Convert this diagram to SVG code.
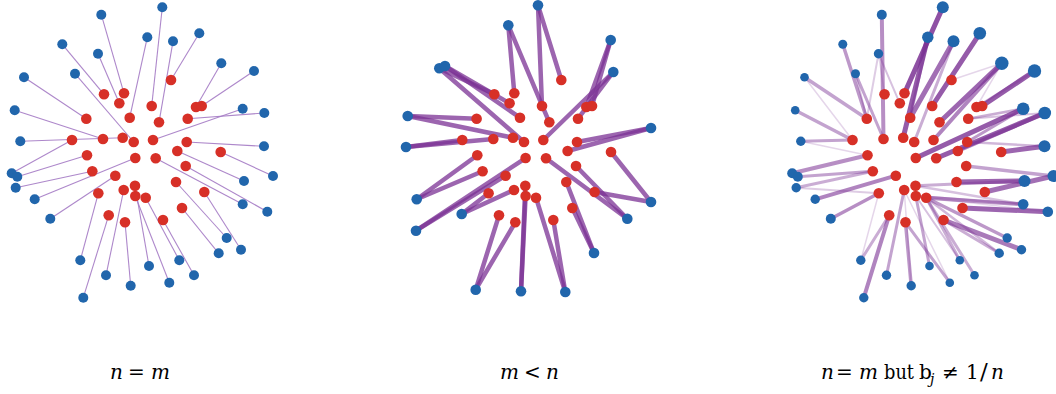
<svg xmlns="http://www.w3.org/2000/svg" width="1056" height="394" viewBox="0 0 1056 394">
<style>
.r{fill:#d73027}
.b{fill:#2166ac}
.e1 line{stroke:#a47ac4;stroke-width:1.1;stroke-opacity:.9}
.e2 line{stroke:#7b3294;stroke-width:4.5;stroke-opacity:.75;stroke-linecap:round}
.e3 line{stroke:#7b3294;stroke-linecap:round}
.lbl{font-family:"DejaVu Serif",serif;font-size:20px;fill:#000}
.it{font-style:italic}
</style>
<rect width="1056" height="394" fill="#fff"/>

<!-- ===== Panel 1: n = m ===== -->
<g id="p1-edges" class="e1">
<line x1="171" y1="80" x2="199.3" y2="33.3"/>
<line x1="104" y1="94.3" x2="62.3" y2="44.3"/>
<line x1="124" y1="93.3" x2="101.3" y2="14.7"/>
<line x1="119.3" y1="103.3" x2="98" y2="53.7"/>
<line x1="151.7" y1="106" x2="162.3" y2="7.3"/>
<line x1="196" y1="107" x2="221.3" y2="63.3"/>
<line x1="201.7" y1="106" x2="254" y2="71"/>
<line x1="86.3" y1="118.7" x2="24" y2="77.3"/>
<line x1="129.7" y1="117.7" x2="147.3" y2="37.3"/>
<line x1="159" y1="122.3" x2="173" y2="41.3"/>
<line x1="187.7" y1="118.7" x2="264.3" y2="113"/>
<line x1="72" y1="140" x2="11.7" y2="173.3"/>
<line x1="103" y1="139" x2="14.7" y2="110.3"/>
<line x1="122.7" y1="137.7" x2="20.3" y2="141.3"/>
<line x1="133.7" y1="142" x2="75" y2="73.7"/>
<line x1="153" y1="140" x2="242.7" y2="108.7"/>
<line x1="186.7" y1="142" x2="264" y2="146.3"/>
<line x1="177.3" y1="151" x2="244" y2="181"/>
<line x1="220.7" y1="152" x2="273" y2="176"/>
<line x1="87" y1="155.3" x2="17.3" y2="176.7"/>
<line x1="135.3" y1="158" x2="34.7" y2="199.3"/>
<line x1="155.7" y1="158.3" x2="242.7" y2="204.3"/>
<line x1="185.7" y1="166" x2="267.3" y2="211.7"/>
<line x1="92.3" y1="171.3" x2="15.7" y2="187.7"/>
<line x1="115.3" y1="175.7" x2="50.3" y2="218.7"/>
<line x1="135" y1="185.7" x2="149" y2="266"/>
<line x1="123.7" y1="190" x2="106" y2="275.3"/>
<line x1="176" y1="182" x2="226.7" y2="238"/>
<line x1="204.3" y1="192" x2="241" y2="249.7"/>
<line x1="98.3" y1="193.3" x2="80.3" y2="260.3"/>
<line x1="135.3" y1="196" x2="169.3" y2="282.7"/>
<line x1="145.7" y1="197.7" x2="179.3" y2="260.3"/>
<line x1="182" y1="208" x2="218.7" y2="253.3"/>
<line x1="108.7" y1="215.3" x2="83.3" y2="297.7"/>
<line x1="125" y1="222.3" x2="130.7" y2="285.7"/>
<line x1="163" y1="220" x2="194" y2="275.3"/>
</g>
<g id="p1-nodes">
<g id="p1-b1"><circle class="b" cx="199.3" cy="33.3" r="5"/></g>
<g id="p1-b2"><circle class="b" cx="62.3" cy="44.3" r="5"/></g>
<g id="p1-b3"><circle class="b" cx="101.3" cy="14.7" r="5"/></g>
<g id="p1-b4"><circle class="b" cx="98" cy="53.7" r="5"/></g>
<g id="p1-b5"><circle class="b" cx="162.3" cy="7.3" r="5"/></g>
<g id="p1-b6"><circle class="b" cx="221.3" cy="63.3" r="5"/></g>
<g id="p1-b7"><circle class="b" cx="254" cy="71" r="5"/></g>
<g id="p1-b8"><circle class="b" cx="24" cy="77.3" r="5"/></g>
<g id="p1-b9"><circle class="b" cx="147.3" cy="37.3" r="5"/></g>
<g id="p1-b10"><circle class="b" cx="173" cy="41.3" r="5"/></g>
<g id="p1-b11"><circle class="b" cx="264.3" cy="113" r="5"/></g>
<g id="p1-b12"><circle class="b" cx="11.7" cy="173.3" r="5"/></g>
<g id="p1-b13"><circle class="b" cx="14.7" cy="110.3" r="5"/></g>
<g id="p1-b14"><circle class="b" cx="20.3" cy="141.3" r="5"/></g>
<g id="p1-b15"><circle class="b" cx="75" cy="73.7" r="5"/></g>
<g id="p1-b16"><circle class="b" cx="242.7" cy="108.7" r="5"/></g>
<g id="p1-b17"><circle class="b" cx="264" cy="146.3" r="5"/></g>
<g id="p1-b18"><circle class="b" cx="244" cy="181" r="5"/></g>
<g id="p1-b19"><circle class="b" cx="273" cy="176" r="5"/></g>
<g id="p1-b20"><circle class="b" cx="17.3" cy="176.7" r="5"/></g>
<g id="p1-b21"><circle class="b" cx="34.7" cy="199.3" r="5"/></g>
<g id="p1-b22"><circle class="b" cx="242.7" cy="204.3" r="5"/></g>
<g id="p1-b23"><circle class="b" cx="267.3" cy="211.7" r="5"/></g>
<g id="p1-b24"><circle class="b" cx="15.7" cy="187.7" r="5"/></g>
<g id="p1-b25"><circle class="b" cx="50.3" cy="218.7" r="5"/></g>
<g id="p1-b26"><circle class="b" cx="149" cy="266" r="5"/></g>
<g id="p1-b27"><circle class="b" cx="106" cy="275.3" r="5"/></g>
<g id="p1-b28"><circle class="b" cx="226.7" cy="238" r="5"/></g>
<g id="p1-b29"><circle class="b" cx="241" cy="249.7" r="5"/></g>
<g id="p1-b30"><circle class="b" cx="80.3" cy="260.3" r="5"/></g>
<g id="p1-b31"><circle class="b" cx="169.3" cy="282.7" r="5"/></g>
<g id="p1-b32"><circle class="b" cx="179.3" cy="260.3" r="5"/></g>
<g id="p1-b33"><circle class="b" cx="218.7" cy="253.3" r="5"/></g>
<g id="p1-b34"><circle class="b" cx="83.3" cy="297.7" r="5"/></g>
<g id="p1-b35"><circle class="b" cx="130.7" cy="285.7" r="5"/></g>
<g id="p1-b36"><circle class="b" cx="194" cy="275.3" r="5"/></g>
<g id="p1-r1"><circle class="r" cx="171" cy="80" r="5.3"/></g>
<g id="p1-r2"><circle class="r" cx="104" cy="94.3" r="5.3"/></g>
<g id="p1-r3"><circle class="r" cx="124" cy="93.3" r="5.3"/></g>
<g id="p1-r4"><circle class="r" cx="119.3" cy="103.3" r="5.3"/></g>
<g id="p1-r5"><circle class="r" cx="151.7" cy="106" r="5.3"/></g>
<g id="p1-r6"><circle class="r" cx="196" cy="107" r="5.3"/></g>
<g id="p1-r7"><circle class="r" cx="201.7" cy="106" r="5.3"/></g>
<g id="p1-r8"><circle class="r" cx="86.3" cy="118.7" r="5.3"/></g>
<g id="p1-r9"><circle class="r" cx="129.7" cy="117.7" r="5.3"/></g>
<g id="p1-r10"><circle class="r" cx="159" cy="122.3" r="5.3"/></g>
<g id="p1-r11"><circle class="r" cx="187.7" cy="118.7" r="5.3"/></g>
<g id="p1-r12"><circle class="r" cx="72" cy="140" r="5.3"/></g>
<g id="p1-r13"><circle class="r" cx="103" cy="139" r="5.3"/></g>
<g id="p1-r14"><circle class="r" cx="122.7" cy="137.7" r="5.3"/></g>
<g id="p1-r15"><circle class="r" cx="133.7" cy="142" r="5.3"/></g>
<g id="p1-r16"><circle class="r" cx="153" cy="140" r="5.3"/></g>
<g id="p1-r17"><circle class="r" cx="186.7" cy="142" r="5.3"/></g>
<g id="p1-r18"><circle class="r" cx="177.3" cy="151" r="5.3"/></g>
<g id="p1-r19"><circle class="r" cx="220.7" cy="152" r="5.3"/></g>
<g id="p1-r20"><circle class="r" cx="87" cy="155.3" r="5.3"/></g>
<g id="p1-r21"><circle class="r" cx="135.3" cy="158" r="5.3"/></g>
<g id="p1-r22"><circle class="r" cx="155.7" cy="158.3" r="5.3"/></g>
<g id="p1-r23"><circle class="r" cx="185.7" cy="166" r="5.3"/></g>
<g id="p1-r24"><circle class="r" cx="92.3" cy="171.3" r="5.3"/></g>
<g id="p1-r25"><circle class="r" cx="115.3" cy="175.7" r="5.3"/></g>
<g id="p1-r26"><circle class="r" cx="135" cy="185.7" r="5.3"/></g>
<g id="p1-r27"><circle class="r" cx="123.7" cy="190" r="5.3"/></g>
<g id="p1-r28"><circle class="r" cx="176" cy="182" r="5.3"/></g>
<g id="p1-r29"><circle class="r" cx="204.3" cy="192" r="5.3"/></g>
<g id="p1-r30"><circle class="r" cx="98.3" cy="193.3" r="5.3"/></g>
<g id="p1-r31"><circle class="r" cx="135.3" cy="196" r="5.3"/></g>
<g id="p1-r32"><circle class="r" cx="145.7" cy="197.7" r="5.3"/></g>
<g id="p1-r33"><circle class="r" cx="182" cy="208" r="5.3"/></g>
<g id="p1-r34"><circle class="r" cx="108.7" cy="215.3" r="5.3"/></g>
<g id="p1-r35"><circle class="r" cx="125" cy="222.3" r="5.3"/></g>
<g id="p1-r36"><circle class="r" cx="163" cy="220" r="5.3"/></g>
</g>

<!-- ===== Panel 2: m < n ===== -->
<g transform="translate(390.3,0)">
<g id="p2-edges" class="e2">
<line x1="171" y1="80" x2="147.7" y2="5.3"/>
<line x1="151.7" y1="106" x2="147.7" y2="5.3"/>
<line x1="124" y1="93.3" x2="118" y2="25.3"/>
<line x1="159" y1="122.3" x2="118" y2="25.3"/>
<line x1="196" y1="107" x2="220.4" y2="40"/>
<line x1="201.7" y1="106" x2="220.4" y2="40"/>
<line x1="187.7" y1="118.7" x2="223" y2="72"/>
<line x1="153" y1="140" x2="223" y2="72"/>
<line x1="104" y1="94.3" x2="49" y2="68.3"/>
<line x1="133.7" y1="142" x2="49" y2="68.3"/>
<line x1="119.3" y1="103.3" x2="54.7" y2="66"/>
<line x1="129.7" y1="117.7" x2="54.7" y2="66"/>
<line x1="86.3" y1="118.7" x2="17.4" y2="116"/>
<line x1="122.7" y1="137.7" x2="17.4" y2="116"/>
<line x1="72" y1="140" x2="15.7" y2="147"/>
<line x1="103" y1="139" x2="15.7" y2="147"/>
<line x1="186.7" y1="142" x2="260.7" y2="128"/>
<line x1="177.3" y1="151" x2="260.7" y2="128"/>
<line x1="220.7" y1="152" x2="260.7" y2="202"/>
<line x1="204.3" y1="192" x2="260.7" y2="202"/>
<line x1="155.7" y1="158.3" x2="237" y2="218.7"/>
<line x1="185.7" y1="166" x2="237" y2="218.7"/>
<line x1="176" y1="182" x2="203.7" y2="253"/>
<line x1="182" y1="208" x2="203.7" y2="253"/>
<line x1="87" y1="155.3" x2="26.4" y2="199.3"/>
<line x1="92.3" y1="171.3" x2="26.4" y2="199.3"/>
<line x1="135.3" y1="158" x2="25.7" y2="230.7"/>
<line x1="115.3" y1="175.7" x2="25.7" y2="230.7"/>
<line x1="123.7" y1="190" x2="71.4" y2="214"/>
<line x1="98.3" y1="193.3" x2="71.4" y2="214"/>
<line x1="108.7" y1="215.3" x2="85.4" y2="289.7"/>
<line x1="125" y1="222.3" x2="85.4" y2="289.7"/>
<line x1="135" y1="185.7" x2="130.7" y2="291.3"/>
<line x1="135.3" y1="196" x2="130.7" y2="291.3"/>
<line x1="145.7" y1="197.7" x2="175" y2="292"/>
<line x1="163" y1="220" x2="175" y2="292"/>
</g>
<g id="p2-nodes">
<g id="p2-b1"><circle class="b" cx="147.7" cy="5.3" r="5.3"/></g>
<g id="p2-b2"><circle class="b" cx="118" cy="25.3" r="5.3"/></g>
<g id="p2-b3"><circle class="b" cx="220.4" cy="40" r="5.3"/></g>
<g id="p2-b4"><circle class="b" cx="223" cy="72" r="5.3"/></g>
<g id="p2-b5"><circle class="b" cx="49" cy="68.3" r="5.3"/></g>
<g id="p2-b6"><circle class="b" cx="54.7" cy="66" r="5.3"/></g>
<g id="p2-b7"><circle class="b" cx="17.4" cy="116" r="5.3"/></g>
<g id="p2-b8"><circle class="b" cx="15.7" cy="147" r="5.3"/></g>
<g id="p2-b9"><circle class="b" cx="260.7" cy="128" r="5.3"/></g>
<g id="p2-b10"><circle class="b" cx="260.7" cy="202" r="5.3"/></g>
<g id="p2-b11"><circle class="b" cx="237" cy="218.7" r="5.3"/></g>
<g id="p2-b12"><circle class="b" cx="203.7" cy="253" r="5.3"/></g>
<g id="p2-b13"><circle class="b" cx="26.4" cy="199.3" r="5.3"/></g>
<g id="p2-b14"><circle class="b" cx="25.7" cy="230.7" r="5.3"/></g>
<g id="p2-b15"><circle class="b" cx="71.4" cy="214" r="5.3"/></g>
<g id="p2-b16"><circle class="b" cx="85.4" cy="289.7" r="5.3"/></g>
<g id="p2-b17"><circle class="b" cx="130.7" cy="291.3" r="5.3"/></g>
<g id="p2-b18"><circle class="b" cx="175" cy="292" r="5.3"/></g>
<g id="p2-r1"><circle class="r" cx="171" cy="80" r="5.3"/></g>
<g id="p2-r2"><circle class="r" cx="104" cy="94.3" r="5.3"/></g>
<g id="p2-r3"><circle class="r" cx="124" cy="93.3" r="5.3"/></g>
<g id="p2-r4"><circle class="r" cx="119.3" cy="103.3" r="5.3"/></g>
<g id="p2-r5"><circle class="r" cx="151.7" cy="106" r="5.3"/></g>
<g id="p2-r6"><circle class="r" cx="196" cy="107" r="5.3"/></g>
<g id="p2-r7"><circle class="r" cx="201.7" cy="106" r="5.3"/></g>
<g id="p2-r8"><circle class="r" cx="86.3" cy="118.7" r="5.3"/></g>
<g id="p2-r9"><circle class="r" cx="129.7" cy="117.7" r="5.3"/></g>
<g id="p2-r10"><circle class="r" cx="159" cy="122.3" r="5.3"/></g>
<g id="p2-r11"><circle class="r" cx="187.7" cy="118.7" r="5.3"/></g>
<g id="p2-r12"><circle class="r" cx="72" cy="140" r="5.3"/></g>
<g id="p2-r13"><circle class="r" cx="103" cy="139" r="5.3"/></g>
<g id="p2-r14"><circle class="r" cx="122.7" cy="137.7" r="5.3"/></g>
<g id="p2-r15"><circle class="r" cx="133.7" cy="142" r="5.3"/></g>
<g id="p2-r16"><circle class="r" cx="153" cy="140" r="5.3"/></g>
<g id="p2-r17"><circle class="r" cx="186.7" cy="142" r="5.3"/></g>
<g id="p2-r18"><circle class="r" cx="177.3" cy="151" r="5.3"/></g>
<g id="p2-r19"><circle class="r" cx="220.7" cy="152" r="5.3"/></g>
<g id="p2-r20"><circle class="r" cx="87" cy="155.3" r="5.3"/></g>
<g id="p2-r21"><circle class="r" cx="135.3" cy="158" r="5.3"/></g>
<g id="p2-r22"><circle class="r" cx="155.7" cy="158.3" r="5.3"/></g>
<g id="p2-r23"><circle class="r" cx="185.7" cy="166" r="5.3"/></g>
<g id="p2-r24"><circle class="r" cx="92.3" cy="171.3" r="5.3"/></g>
<g id="p2-r25"><circle class="r" cx="115.3" cy="175.7" r="5.3"/></g>
<g id="p2-r26"><circle class="r" cx="135" cy="185.7" r="5.3"/></g>
<g id="p2-r27"><circle class="r" cx="123.7" cy="190" r="5.3"/></g>
<g id="p2-r28"><circle class="r" cx="176" cy="182" r="5.3"/></g>
<g id="p2-r29"><circle class="r" cx="204.3" cy="192" r="5.3"/></g>
<g id="p2-r30"><circle class="r" cx="98.3" cy="193.3" r="5.3"/></g>
<g id="p2-r31"><circle class="r" cx="135.3" cy="196" r="5.3"/></g>
<g id="p2-r32"><circle class="r" cx="145.7" cy="197.7" r="5.3"/></g>
<g id="p2-r33"><circle class="r" cx="182" cy="208" r="5.3"/></g>
<g id="p2-r34"><circle class="r" cx="108.7" cy="215.3" r="5.3"/></g>
<g id="p2-r35"><circle class="r" cx="125" cy="222.3" r="5.3"/></g>
<g id="p2-r36"><circle class="r" cx="163" cy="220" r="5.3"/></g>
</g>
</g>

<!-- ===== Panel 3: n = m but b_j != 1/n ===== -->
<g transform="translate(780.5,0)">
<g id="p3-edges" class="e3">
<line x1="124" y1="93.3" x2="162.3" y2="7.3" stroke-width="5" stroke-opacity=".85"/>
<line x1="103" y1="139" x2="101.3" y2="14.7" stroke-width="4" stroke-opacity=".55"/>
<line x1="104" y1="94.3" x2="98" y2="53.7" stroke-width="1.5" stroke-opacity=".2"/>
<line x1="86.3" y1="118.7" x2="98" y2="53.7" stroke-width="2" stroke-opacity=".25"/>
<line x1="119.3" y1="103.3" x2="98" y2="53.7" stroke-width="2" stroke-opacity=".3"/>
<line x1="86.3" y1="118.7" x2="62.3" y2="44.3" stroke-width="3.5" stroke-opacity=".5"/>
<line x1="103" y1="139" x2="75" y2="73.7" stroke-width="3" stroke-opacity=".45"/>
<line x1="86.3" y1="118.7" x2="75" y2="73.7" stroke-width="2" stroke-opacity=".3"/>
<line x1="86.3" y1="118.7" x2="24" y2="77.3" stroke-width="3.5" stroke-opacity=".45"/>
<line x1="72" y1="140" x2="24" y2="77.3" stroke-width="1.5" stroke-opacity=".2"/>
<line x1="72" y1="140" x2="14.7" y2="110.3" stroke-width="3.5" stroke-opacity=".45"/>
<line x1="72" y1="140" x2="20.3" y2="141.3" stroke-width="3" stroke-opacity=".45"/>
<line x1="87" y1="155.3" x2="20.3" y2="141.3" stroke-width="1.5" stroke-opacity=".2"/>
<line x1="151.7" y1="106" x2="199.3" y2="33.3" stroke-width="5" stroke-opacity=".8"/>
<line x1="129.7" y1="117.7" x2="173" y2="41.3" stroke-width="5" stroke-opacity=".7"/>
<line x1="133.7" y1="142" x2="173" y2="41.3" stroke-width="3" stroke-opacity=".4"/>
<line x1="122.7" y1="137.7" x2="147.3" y2="37.3" stroke-width="5" stroke-opacity=".8"/>
<line x1="129.7" y1="117.7" x2="147.3" y2="37.3" stroke-width="3" stroke-opacity=".45"/>
<line x1="159" y1="122.3" x2="221.3" y2="63.3" stroke-width="5" stroke-opacity=".75"/>
<line x1="153" y1="140" x2="221.3" y2="63.3" stroke-width="4" stroke-opacity=".6"/>
<line x1="171" y1="80" x2="221.3" y2="63.3" stroke-width="1.5" stroke-opacity=".2"/>
<line x1="196" y1="107" x2="221.3" y2="63.3" stroke-width="1.5" stroke-opacity=".2"/>
<line x1="201.7" y1="106" x2="254" y2="71" stroke-width="5" stroke-opacity=".8"/>
<line x1="196" y1="107" x2="254" y2="71" stroke-width="2.5" stroke-opacity=".35"/>
<line x1="135.3" y1="158" x2="242.7" y2="108.7" stroke-width="5" stroke-opacity=".8"/>
<line x1="186.7" y1="142" x2="242.7" y2="108.7" stroke-width="3" stroke-opacity=".5"/>
<line x1="187.7" y1="118.7" x2="242.7" y2="108.7" stroke-width="2.5" stroke-opacity=".4"/>
<line x1="155.7" y1="158.3" x2="264.3" y2="113" stroke-width="5" stroke-opacity=".8"/>
<line x1="177.3" y1="151" x2="264.3" y2="113" stroke-width="4" stroke-opacity=".6"/>
<line x1="187.7" y1="118.7" x2="264.3" y2="113" stroke-width="2" stroke-opacity=".3"/>
<line x1="220.7" y1="152" x2="264" y2="146.3" stroke-width="5" stroke-opacity=".75"/>
<line x1="186.7" y1="142" x2="264" y2="146.3" stroke-width="2.5" stroke-opacity=".35"/>
<line x1="185.7" y1="166" x2="273" y2="176" stroke-width="3.5" stroke-opacity=".45"/>
<line x1="204.3" y1="192" x2="273" y2="176" stroke-width="5" stroke-opacity=".7"/>
<line x1="176" y1="182" x2="244" y2="181" stroke-width="5" stroke-opacity=".75"/>
<line x1="135" y1="185.7" x2="244" y2="181" stroke-width="3" stroke-opacity=".4"/>
<line x1="135" y1="185.7" x2="242.7" y2="204.3" stroke-width="2.5" stroke-opacity=".3"/>
<line x1="145.7" y1="197.7" x2="242.7" y2="204.3" stroke-width="4" stroke-opacity=".5"/>
<line x1="135.3" y1="196" x2="242.7" y2="204.3" stroke-width="2.5" stroke-opacity=".35"/>
<line x1="182" y1="208" x2="267.3" y2="211.7" stroke-width="5" stroke-opacity=".75"/>
<line x1="145.7" y1="197.7" x2="267.3" y2="211.7" stroke-width="1.5" stroke-opacity=".2"/>
<line x1="145.7" y1="197.7" x2="226.7" y2="238" stroke-width="3.5" stroke-opacity=".5"/>
<line x1="163" y1="220" x2="241" y2="249.7" stroke-width="5" stroke-opacity=".65"/>
<line x1="163" y1="220" x2="218.7" y2="253.3" stroke-width="3" stroke-opacity=".4"/>
<line x1="145.7" y1="197.7" x2="218.7" y2="253.3" stroke-width="2.5" stroke-opacity=".35"/>
<line x1="135.3" y1="196" x2="149" y2="266" stroke-width="3" stroke-opacity=".45"/>
<line x1="125" y1="222.3" x2="169.3" y2="282.7" stroke-width="3" stroke-opacity=".45"/>
<line x1="123.7" y1="190" x2="169.3" y2="282.7" stroke-width="1.5" stroke-opacity=".2"/>
<line x1="145.7" y1="197.7" x2="179.3" y2="260.3" stroke-width="3" stroke-opacity=".4"/>
<line x1="135.3" y1="196" x2="179.3" y2="260.3" stroke-width="2" stroke-opacity=".3"/>
<line x1="145.7" y1="197.7" x2="194" y2="275.3" stroke-width="3" stroke-opacity=".4"/>
<line x1="125" y1="222.3" x2="130.7" y2="285.7" stroke-width="3.5" stroke-opacity=".5"/>
<line x1="123.7" y1="190" x2="130.7" y2="285.7" stroke-width="1.5" stroke-opacity=".2"/>
<line x1="123.7" y1="190" x2="106" y2="275.3" stroke-width="3" stroke-opacity=".45"/>
<line x1="108.7" y1="215.3" x2="80.3" y2="260.3" stroke-width="3" stroke-opacity=".4"/>
<line x1="98.3" y1="193.3" x2="80.3" y2="260.3" stroke-width="1.5" stroke-opacity=".2"/>
<line x1="108.7" y1="215.3" x2="83.3" y2="297.7" stroke-width="4" stroke-opacity=".6"/>
<line x1="98.3" y1="193.3" x2="50.3" y2="218.7" stroke-width="3.5" stroke-opacity=".55"/>
<line x1="115.3" y1="175.7" x2="34.7" y2="199.3" stroke-width="4" stroke-opacity=".6"/>
<line x1="92.3" y1="171.3" x2="15.7" y2="187.7" stroke-width="3" stroke-opacity=".4"/>
<line x1="98.3" y1="193.3" x2="15.7" y2="187.7" stroke-width="2" stroke-opacity=".25"/>
<line x1="92.3" y1="171.3" x2="17.3" y2="176.7" stroke-width="3" stroke-opacity=".45"/>
<line x1="87" y1="155.3" x2="11.7" y2="173.3" stroke-width="4" stroke-opacity=".55"/>
</g>
<g id="p3-nodes">
<g id="p3-b1"><circle class="b" cx="199.3" cy="33.3" r="6.3"/></g>
<g id="p3-b2"><circle class="b" cx="62.3" cy="44.3" r="4.5"/></g>
<g id="p3-b3"><circle class="b" cx="101.3" cy="14.7" r="5"/></g>
<g id="p3-b4"><circle class="b" cx="98" cy="53.7" r="4.7"/></g>
<g id="p3-b5"><circle class="b" cx="162.3" cy="7.3" r="6"/></g>
<g id="p3-b6"><circle class="b" cx="221.3" cy="63.3" r="6.7"/></g>
<g id="p3-b7"><circle class="b" cx="254" cy="71" r="6.7"/></g>
<g id="p3-b8"><circle class="b" cx="24" cy="77.3" r="4.3"/></g>
<g id="p3-b9"><circle class="b" cx="147.3" cy="37.3" r="5.7"/></g>
<g id="p3-b10"><circle class="b" cx="173" cy="41.3" r="6"/></g>
<g id="p3-b11"><circle class="b" cx="264.3" cy="113" r="6.3"/></g>
<g id="p3-b12"><circle class="b" cx="11.7" cy="173.3" r="5"/></g>
<g id="p3-b13"><circle class="b" cx="14.7" cy="110.3" r="4.3"/></g>
<g id="p3-b14"><circle class="b" cx="20.3" cy="141.3" r="4.7"/></g>
<g id="p3-b15"><circle class="b" cx="75" cy="73.7" r="4.5"/></g>
<g id="p3-b16"><circle class="b" cx="242.7" cy="108.7" r="6.3"/></g>
<g id="p3-b17"><circle class="b" cx="264" cy="146.3" r="6"/></g>
<g id="p3-b18"><circle class="b" cx="244" cy="181" r="6"/></g>
<g id="p3-b19"><circle class="b" cx="273" cy="176" r="6"/></g>
<g id="p3-b20"><circle class="b" cx="17.3" cy="176.7" r="5"/></g>
<g id="p3-b21"><circle class="b" cx="34.7" cy="199.3" r="4.7"/></g>
<g id="p3-b22"><circle class="b" cx="242.7" cy="204.3" r="5.3"/></g>
<g id="p3-b23"><circle class="b" cx="267.3" cy="211.7" r="5.3"/></g>
<g id="p3-b24"><circle class="b" cx="15.7" cy="187.7" r="4.7"/></g>
<g id="p3-b25"><circle class="b" cx="50.3" cy="218.7" r="5"/></g>
<g id="p3-b26"><circle class="b" cx="149" cy="266" r="4.3"/></g>
<g id="p3-b27"><circle class="b" cx="106" cy="275.3" r="4.7"/></g>
<g id="p3-b28"><circle class="b" cx="226.7" cy="238" r="4.7"/></g>
<g id="p3-b29"><circle class="b" cx="241" cy="249.7" r="4.7"/></g>
<g id="p3-b30"><circle class="b" cx="80.3" cy="260.3" r="4.7"/></g>
<g id="p3-b31"><circle class="b" cx="169.3" cy="282.7" r="4.3"/></g>
<g id="p3-b32"><circle class="b" cx="179.3" cy="260.3" r="4.3"/></g>
<g id="p3-b33"><circle class="b" cx="218.7" cy="253.3" r="4.7"/></g>
<g id="p3-b34"><circle class="b" cx="83.3" cy="297.7" r="4.7"/></g>
<g id="p3-b35"><circle class="b" cx="130.7" cy="285.7" r="4.7"/></g>
<g id="p3-b36"><circle class="b" cx="194" cy="275.3" r="4.3"/></g>
<g id="p3-r1"><circle class="r" cx="171" cy="80" r="5.3"/></g>
<g id="p3-r2"><circle class="r" cx="104" cy="94.3" r="5.3"/></g>
<g id="p3-r3"><circle class="r" cx="124" cy="93.3" r="5.3"/></g>
<g id="p3-r4"><circle class="r" cx="119.3" cy="103.3" r="5.3"/></g>
<g id="p3-r5"><circle class="r" cx="151.7" cy="106" r="5.3"/></g>
<g id="p3-r6"><circle class="r" cx="196" cy="107" r="5.3"/></g>
<g id="p3-r7"><circle class="r" cx="201.7" cy="106" r="5.3"/></g>
<g id="p3-r8"><circle class="r" cx="86.3" cy="118.7" r="5.3"/></g>
<g id="p3-r9"><circle class="r" cx="129.7" cy="117.7" r="5.3"/></g>
<g id="p3-r10"><circle class="r" cx="159" cy="122.3" r="5.3"/></g>
<g id="p3-r11"><circle class="r" cx="187.7" cy="118.7" r="5.3"/></g>
<g id="p3-r12"><circle class="r" cx="72" cy="140" r="5.3"/></g>
<g id="p3-r13"><circle class="r" cx="103" cy="139" r="5.3"/></g>
<g id="p3-r14"><circle class="r" cx="122.7" cy="137.7" r="5.3"/></g>
<g id="p3-r15"><circle class="r" cx="133.7" cy="142" r="5.3"/></g>
<g id="p3-r16"><circle class="r" cx="153" cy="140" r="5.3"/></g>
<g id="p3-r17"><circle class="r" cx="186.7" cy="142" r="5.3"/></g>
<g id="p3-r18"><circle class="r" cx="177.3" cy="151" r="5.3"/></g>
<g id="p3-r19"><circle class="r" cx="220.7" cy="152" r="5.3"/></g>
<g id="p3-r20"><circle class="r" cx="87" cy="155.3" r="5.3"/></g>
<g id="p3-r21"><circle class="r" cx="135.3" cy="158" r="5.3"/></g>
<g id="p3-r22"><circle class="r" cx="155.7" cy="158.3" r="5.3"/></g>
<g id="p3-r23"><circle class="r" cx="185.7" cy="166" r="5.3"/></g>
<g id="p3-r24"><circle class="r" cx="92.3" cy="171.3" r="5.3"/></g>
<g id="p3-r25"><circle class="r" cx="115.3" cy="175.7" r="5.3"/></g>
<g id="p3-r26"><circle class="r" cx="135" cy="185.7" r="5.3"/></g>
<g id="p3-r27"><circle class="r" cx="123.7" cy="190" r="5.3"/></g>
<g id="p3-r28"><circle class="r" cx="176" cy="182" r="5.3"/></g>
<g id="p3-r29"><circle class="r" cx="204.3" cy="192" r="5.3"/></g>
<g id="p3-r30"><circle class="r" cx="98.3" cy="193.3" r="5.3"/></g>
<g id="p3-r31"><circle class="r" cx="135.3" cy="196" r="5.3"/></g>
<g id="p3-r32"><circle class="r" cx="145.7" cy="197.7" r="5.3"/></g>
<g id="p3-r33"><circle class="r" cx="182" cy="208" r="5.3"/></g>
<g id="p3-r34"><circle class="r" cx="108.7" cy="215.3" r="5.3"/></g>
<g id="p3-r35"><circle class="r" cx="125" cy="222.3" r="5.3"/></g>
<g id="p3-r36"><circle class="r" cx="163" cy="220" r="5.3"/></g>
</g>
</g>

<!-- ===== Captions ===== -->
<g id="captions" class="lbl">
<text y="379"><tspan class="it" x="110">n</tspan><tspan x="128">=</tspan><tspan class="it" x="151">m</tspan></text>
<text y="379"><tspan class="it" x="500">m</tspan><tspan x="524">&lt;</tspan><tspan class="it" x="546">n</tspan></text>
<text y="379"><tspan class="it" x="821">n</tspan><tspan x="836">=</tspan><tspan class="it" x="859">m</tspan><tspan x="884" textLength="30" lengthAdjust="spacingAndGlyphs">but</tspan><tspan x="919">b</tspan><tspan class="it" x="930" y="384" font-size="14">j</tspan><tspan x="942" y="379">≠</tspan><tspan x="966">1</tspan><tspan x="980" font-size="23">/</tspan><tspan class="it" x="991">n</tspan></text>
</g>
</svg>
